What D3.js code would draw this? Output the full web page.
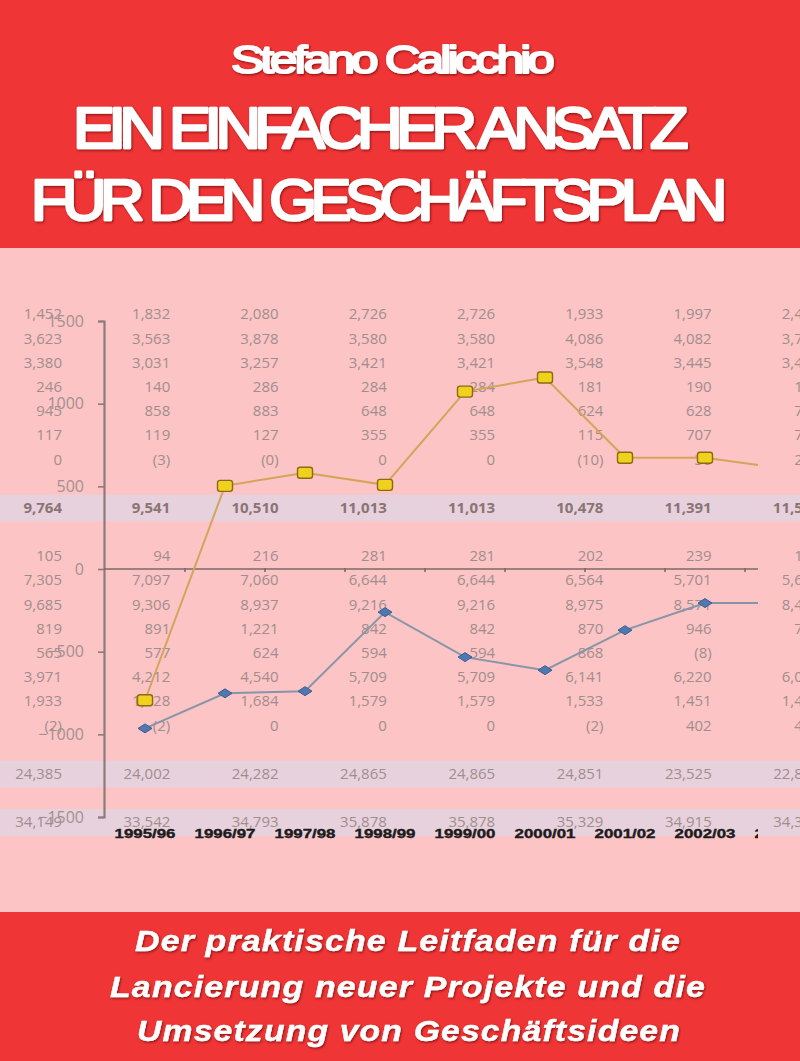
<!DOCTYPE html>
<html>
<head>
<meta charset="utf-8">
<script src="https://cdn.jsdelivr.net/npm/d3@7"></script>
<style>
  html, body { margin: 0; padding: 0; background: #fcc4c4; }
  svg { display: block; }
</style>
</head>
<body>
<svg id="cover" width="800" height="1061"></svg>
<script>
// Chart data
const categories = ['1995/96', '1996/97', '1997/98', '1998/99', '1999/00', '2000/01', '2001/02', '2002/03', '2003/04'];
const goldSeries = [-794, 503, 582, 509, 1073, 1158, 673, 673, 607];
const blueSeries = [-964, -752, -739, -261, -533, -612, -370, -206, -206];
const yTicks = [1500, 1000, 500, 0, -500, -1000, -1500];

// Background table (one array per row, one entry per column)
const rowsTop = [
  ['1,452', '1,832', '2,080', '2,726', '2,726', '1,933', '1,997', '2,459'],
  ['3,623', '3,563', '3,878', '3,580', '3,580', '4,086', '4,082', '3,716'],
  ['3,380', '3,031', '3,257', '3,421', '3,421', '3,548', '3,445', '3,412'],
  ['246', '140', '286', '284', '284', '181', '190', '153'],
  ['945', '858', '883', '648', '648', '624', '628', '735'],
  ['117', '119', '127', '355', '355', '115', '707', '712'],
  ['0', '(3)', '(0)', '0', '0', '(10)', '36', '218']
];
const totalTop = ['9,764', '9,541', '10,510', '11,013', '11,013', '10,478', '11,391', '11,595'];
const rowsBottom = [
  ['105', '94', '216', '281', '281', '202', '239', '142'],
  ['7,305', '7,097', '7,060', '6,644', '6,644', '6,564', '5,701', '5,634'],
  ['9,685', '9,306', '8,937', '9,216', '9,216', '8,975', '8,571', '8,467'],
  ['819', '891', '1,221', '842', '842', '870', '946', '784'],
  ['565', '577', '624', '594', '594', '868', '(8)', ''],
  ['3,971', '4,212', '4,540', '5,709', '5,709', '6,141', '6,220', '6,048'],
  ['1,933', '1,928', '1,684', '1,579', '1,579', '1,533', '1,451', '1,426'],
  ['(2)', '(2)', '0', '0', '0', '(2)', '402', '418']
];
const totalMid = ['24,385', '24,002', '24,282', '24,865', '24,865', '24,851', '23,525', '22,876'];
const totalBottom = ['34,149', '33,542', '34,793', '35,878', '35,878', '35,329', '34,915', '34,362'];

const author = 'Stefano Calicchio';
const titleLines = ['EIN EINFACHER ANSATZ', 'FÜR DEN GESCHÄFTSPLAN'];
const subtitleLines = ['Der praktische Leitfaden für die', 'Lancierung neuer Projekte und die', 'Umsetzung von Geschäftsideen'];

const W = 800, H = 1061;
const svg = d3.select('#cover');

const defs = svg.append('defs');
defs.append('clipPath').attr('id', 'plotClip')
  .append('rect').attr('x', 0).attr('y', 250).attr('width', 758).attr('height', 660);
defs.append('clipPath').attr('id', 'labelClip')
  .append('rect').attr('x', 0).attr('y', 250).attr('width', 758).attr('height', 660);
const shadow = defs.append('filter').attr('id', 'shadow')
  .attr('x', '-5%').attr('y', '-20%').attr('width', '110%').attr('height', '140%');
shadow.append('feDropShadow')
  .attr('dx', 1).attr('dy', 1.3).attr('stdDeviation', 1.1)
  .attr('flood-color', '#5a0000').attr('flood-opacity', 0.65);

// Backgrounds
svg.append('rect').attr('width', W).attr('height', H).attr('fill', '#fcc4c4');
svg.append('rect').attr('width', W).attr('height', 248).attr('fill', '#ef3535');
svg.append('rect').attr('y', 912).attr('width', W).attr('height', H - 912).attr('fill', '#ef3535');

// Table
const xCol = d3.scaleLinear().domain([0, 7]).range([62, 820]);
const yRow = d3.scaleLinear().domain([0, 21]).range([314, 822]);

const tableRows = [];
rowsTop.forEach((r, i) => tableRows.push({ idx: i, values: r, bold: false }));
tableRows.push({ idx: 8, values: totalTop, bold: true });
rowsBottom.forEach((r, i) => tableRows.push({ idx: 10 + i, values: r, bold: false }));
tableRows.push({ idx: 19, values: totalMid, bold: false });
tableRows.push({ idx: 21, values: totalBottom, bold: false });

const bandRows = tableRows.filter(d => d.idx === 8 || d.idx === 19 || d.idx === 21);
svg.append('g').selectAll('rect')
  .data(bandRows)
  .enter()
  .append('rect')
  .attr('x', 0)
  .attr('y', d => yRow(d.idx) - 13)
  .attr('width', W)
  .attr('height', 27)
  .attr('fill', '#e7d1dc');

const table = svg.append('g')
  .style('font-family', '"Open Sans", "Noto Sans", sans-serif')
  .style('font-size', '15px');

table.selectAll('.row')
  .data(tableRows)
  .enter()
  .append('g')
  .attr('class', 'row')
  .each(function (row) {
    d3.select(this).selectAll('text')
      .data(row.values)
      .enter()
      .append('text')
      .attr('x', (d, i) => xCol(i))
      .attr('y', yRow(row.idx))
      .attr('dy', '0.36em')
      .attr('text-anchor', 'end')
      .attr('fill', row.bold ? '#8a7474' : '#a08e8e')
      .style('font-weight', row.bold ? 'bold' : 'normal')
      .text(d => d);
  });

// Chart
const x = d3.scaleBand().domain(categories).range([105, 825]).paddingInner(0).paddingOuter(0);
const y = d3.scaleLinear().domain([-1500, 1500]).range([817, 321]);
const cx = d => x(d) + x.bandwidth() / 2;

const yAxis = svg.append('g')
  .attr('transform', 'translate(104,0)')
  .call(d3.axisLeft(y).tickValues(yTicks).tickSize(6).tickPadding(14).tickFormat(d3.format('d')));
yAxis.select('.domain').attr('stroke', '#8c7b7b').attr('stroke-width', 2.2);
yAxis.selectAll('.tick line').attr('stroke', '#8c7b7b').attr('stroke-width', 1.6);
yAxis.selectAll('.tick text')
  .attr('fill', '#a39090')
  .style('font-family', '"Open Sans", "Noto Sans", sans-serif')
  .style('font-size', '16px');

// Zero line with boundary ticks
const plot = svg.append('g').attr('clip-path', 'url(#plotClip)');
plot.append('line')
  .attr('x1', 104).attr('x2', W)
  .attr('y1', y(0)).attr('y2', y(0))
  .attr('stroke', '#7d6a6a').attr('stroke-width', 1.6);
plot.selectAll('.bound')
  .data(categories.slice(1))
  .enter()
  .append('line')
  .attr('x1', d => x(d)).attr('x2', d => x(d))
  .attr('y1', y(0) - 1).attr('y2', y(0) + 3)
  .attr('stroke', '#7d6a6a').attr('stroke-width', 1.6);

const line = d3.line().x((d, i) => cx(categories[i])).y(d => y(d));

plot.append('path')
  .datum(blueSeries)
  .attr('fill', 'none')
  .attr('stroke', '#8795a8')
  .attr('stroke-width', 2)
  .attr('d', line);

plot.append('path')
  .datum(goldSeries)
  .attr('fill', 'none')
  .attr('stroke', '#d3a45a')
  .attr('stroke-width', 2)
  .attr('d', line);

plot.selectAll('.blue-pt')
  .data(blueSeries)
  .enter()
  .append('path')
  .attr('class', 'blue-pt')
  .attr('transform', (d, i) => `translate(${cx(categories[i])},${y(d)})`)
  .attr('d', 'M-7,0L0,-4.5L7,0L0,4.5Z')
  .attr('fill', '#4f78b0')
  .attr('stroke', '#3a5e90')
  .attr('stroke-width', 1);

plot.selectAll('.gold-pt')
  .data(goldSeries)
  .enter()
  .append('rect')
  .attr('class', 'gold-pt')
  .attr('x', (d, i) => cx(categories[i]) - 7.5)
  .attr('y', d => y(d) - 5.5)
  .attr('width', 15)
  .attr('height', 11)
  .attr('rx', 2.5)
  .attr('fill', '#f0d21e')
  .attr('stroke', '#8a6a14')
  .attr('stroke-width', 1.4);

// Category labels
svg.append('g').attr('clip-path', 'url(#labelClip)')
  .selectAll('text')
  .data(categories)
  .enter()
  .append('text')
  .attr('x', d => cx(d))
  .attr('y', 838)
  .attr('text-anchor', 'middle')
  .attr('textLength', 61)
  .attr('lengthAdjust', 'spacingAndGlyphs')
  .attr('fill', '#1e1a1a')
  .attr('stroke', '#1e1a1a')
  .attr('stroke-width', 0.4)
  .style('font-family', '"Liberation Sans", Arial, sans-serif')
  .style('font-weight', 'bold')
  .style('font-size', '13.5px')
  .text(d => d);

// Cover texts
const head = svg.append('g')
  .attr('fill', '#ffffff')
  .attr('stroke', '#ffffff')
  .attr('stroke-linejoin', 'round')
  .attr('filter', 'url(#shadow)')
  .style('font-family', '"Liberation Sans", Arial, sans-serif')
  .style('font-weight', 'normal');

head.append('text')
  .attr('x', 231).attr('y', 73)
  .attr('textLength', 320).attr('lengthAdjust', 'spacingAndGlyphs')
  .attr('stroke-width', 2)
  .style('font-size', '39px').style('letter-spacing', '-3px')
  .text(author);

const titleBox = [{ x: 73, y: 148, w: 609 }, { x: 31, y: 220, w: 690 }];
head.selectAll('.title')
  .data(titleLines)
  .enter()
  .append('text')
  .attr('class', 'title')
  .attr('x', (d, i) => titleBox[i].x)
  .attr('y', (d, i) => titleBox[i].y)
  .attr('textLength', (d, i) => titleBox[i].w)
  .attr('lengthAdjust', 'spacingAndGlyphs')
  .attr('stroke-width', 2.6)
  .style('font-size', '57px').style('letter-spacing', '-6px')
  .text(d => d);

const subBox = [{ x: 135, y: 951, w: 546 }, { x: 110, y: 997, w: 596 }, { x: 137, y: 1041, w: 544 }];
svg.append('g')
  .attr('fill', '#ffffff')
  .attr('stroke', '#ffffff')
  .attr('stroke-width', 0.4)
  .attr('filter', 'url(#shadow)')
  .style('font-family', '"Liberation Sans", Arial, sans-serif')
  .style('font-weight', 'bold')
  .style('font-style', 'italic')
  .style('font-size', '29px')
  .style('letter-spacing', '1px')
  .selectAll('text')
  .data(subtitleLines)
  .enter()
  .append('text')
  .attr('x', (d, i) => subBox[i].x)
  .attr('y', (d, i) => subBox[i].y)
  .attr('textLength', (d, i) => subBox[i].w)
  .attr('lengthAdjust', 'spacingAndGlyphs')
  .text(d => d);
</script>
</body>
</html>
